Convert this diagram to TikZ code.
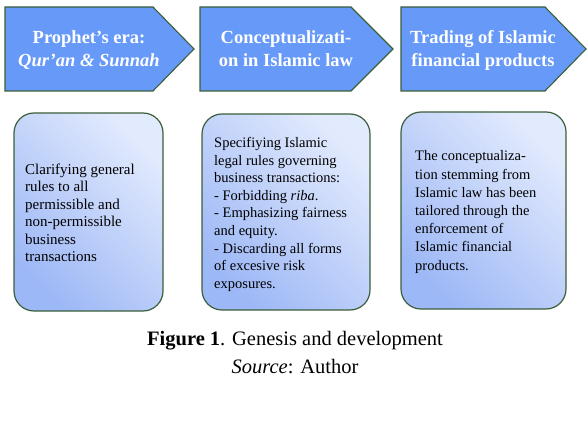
\documentclass[tikz,border=0pt]{standalone}
\usepackage{fontspec}
\setmainfont{Liberation Serif}
\definecolor{arrowfill}{HTML}{6699F8}
\definecolor{edgegreen}{HTML}{3B5E3B}
\definecolor{boxlight}{HTML}{E2EAFD}
\definecolor{boxdark}{HTML}{9DB8F6}
\tikzset{
  chevron/.style={draw=edgegreen, line width=1.1bp, fill=arrowfill, line join=miter},
  stagebox/.style={draw=edgegreen, line width=1.2bp, rounded corners=20bp,
    bottom color=boxdark, top color=boxlight, shading angle=-45},
  headtext/.style={text=white, align=center, inner sep=0pt, anchor=base,
    font=\bfseries\fontsize{18.5bp}{23bp}\selectfont},
  bodytext/.style={align=left, inner sep=0pt, anchor=base west,
    font=\fontsize{14.5bp}{17.6bp}\selectfont},
  captext/.style={inner sep=0pt, anchor=base, font=\fontsize{20.5bp}{24bp}\selectfont}
}
\begin{document}
\begin{tikzpicture}[x=1bp, y=-1bp]
\useasboundingbox (0,0) rectangle (588,435);
% chevrons
\path[chevron] (5,7) -- (153,7) -- (194,49) -- (153,91) -- (5,91) -- cycle;
\path[chevron] (200,7) -- (351,7) -- (393,49) -- (351,91) -- (200,91) -- cycle;
\path[chevron] (401,7) -- (545,7) -- (586,49) -- (545,91) -- (401,91) -- cycle;
% (base anchor = baseline of the last line)
\node[headtext] (h1) at (89,67) {Prophet’s era:\\\textit{Qur’an \& Sunnah}};
\node[headtext] (h2) at (286,67) {Conceptualizati-\\on in Islamic law};
\node[headtext] (h3) at (483,67) {Trading of Islamic\\financial products};
% boxes
\path[stagebox] (14,113) rectangle (163,311);
\path[stagebox] (202,114) rectangle (370,310);
\path[stagebox] (401,112) rectangle (566,309);
\node[bodytext, font=\fontsize{15bp}{17.4bp}\selectfont] (b1) at (25,261.5) {Clarifying general\\rules to all\\permissible and\\non-permissible\\business\\transactions};
\node[bodytext] (b2) at (214,288.3) {Specifiying Islamic\\legal rules governing\\business transactions:\\- Forbidding \textit{riba}.\\- Emphasizing fairness\\and equity.\\- Discarding all forms\\of excesive risk\\exposures.};
\node[bodytext, font=\fontsize{14.5bp}{18.2bp}\selectfont] (b3) at (415,270.2) {The conceptualiza-\\tion stemming from\\Islamic law has been\\tailored through the\\enforcement of\\Islamic financial\\products.};
% caption
\node[captext] (cap) at (295,345) {\textbf{Figure 1}. Genesis and development};
\node[captext] (src) at (295,373) {\textit{Source}: Author};
\end{tikzpicture}
\end{document}
